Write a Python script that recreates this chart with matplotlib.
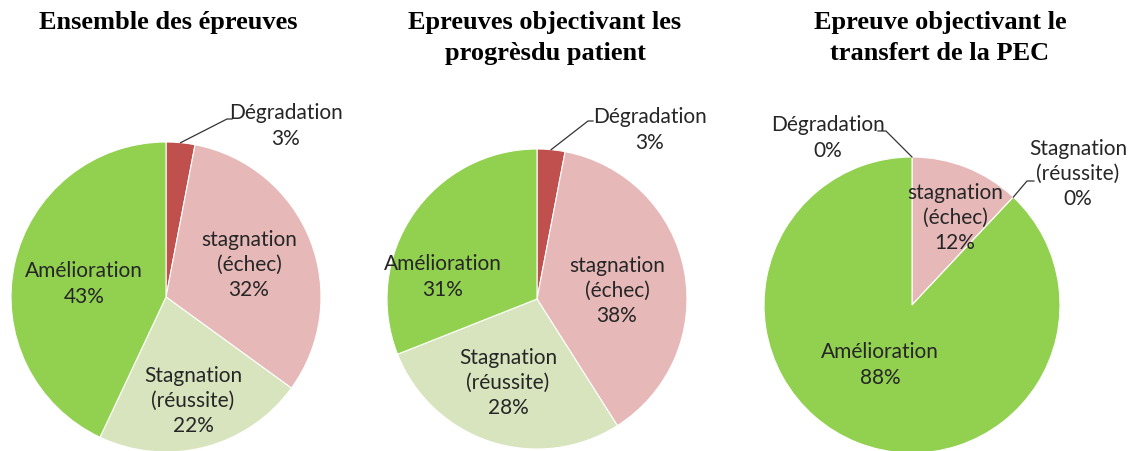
import numpy as np
import matplotlib
matplotlib.use("Agg")
import matplotlib.pyplot as plt

W, H = 1130, 452

titles = ["Ensemble des épreuves",
          "Epreuves objectivant les\nprogrèsdu patient",
          "Epreuve objectivant le\ntransfert de la PEC"]
categories = ["Dégradation", "stagnation\n(échec)", "Stagnation\n(réussite)", "Amélioration"]
values_all = [3, 32, 22, 43]
values_progres = [3, 38, 28, 31]
values_transfert = [0, 12, 0, 88]
colors = ["#C0504D", "#E6B9B8", "#D7E4BD", "#92D050"]

series = [values_all, values_progres, values_transfert]

# layout (pixels)
centers = [(166, 298), (537, 300), (912, 306)]
radii = [155, 150, 148]
title_pos = [(168, 23), (545, 38), (940, 38)]
# label positions per pie (pixel coords, centre of text block)
label_pos = [
    [(286, 126), (249, 265), (193, 401), (84, 284)],
    [(650, 130), (617, 291), (508, 383), (443, 277)],
    [(828, 138), (955, 218), (1078, 174), (880, 365)],
]
# leader lines: (slice index, elbow point, end point) per pie
leaders = [
    [(0, (227, 120), (232, 120))],
    [(0, (588, 122), (593, 122))],
    [(0, (886, 132), (878, 132)), (2, (1027, 182), (1034, 182))],
]

fig = plt.figure(figsize=(W / 100, H / 100), dpi=100)
ax = fig.add_axes([0, 0, 1, 1])

def Y(y):
    return H - y

label_font = "Lato"
for i, vals in enumerate(series):
    cx, cy = centers[i]
    r = radii[i]
    wedges, _ = ax.pie(vals, colors=colors, startangle=90, counterclock=False,
                       center=(cx, Y(cy)), radius=r, frame=True,
                       wedgeprops=dict(edgecolor="white", linewidth=0.8))
    for j, (cat, v) in enumerate(zip(categories, vals)):
        lx, ly = label_pos[i][j]
        ax.text(lx, Y(ly), f"{cat}\n{v}%", ha="center", va="center",
                fontsize=15, family=label_font, color="#262626", linespacing=1.33)
    for (j, elbow, end) in leaders[i]:
        w = wedges[j]
        ang = np.deg2rad((w.theta1 + w.theta2) / 2)
        px = cx + r * np.cos(ang)
        py = Y(cy) + r * np.sin(ang)
        ax.plot([px, elbow[0], end[0]], [py, Y(elbow[1]), Y(end[1])],
                color="#333333", lw=0.9)
    tx, ty = title_pos[i]
    ax.text(tx, Y(ty), titles[i], ha="center", va="center", fontsize=19,
            family="Liberation Serif", weight="bold", linespacing=1.4)

ax.set_xlim(0, W)
ax.set_ylim(0, H)
ax.set_aspect("equal")
ax.axis("off")
fig.savefig("out.png", dpi=100, facecolor="white")
